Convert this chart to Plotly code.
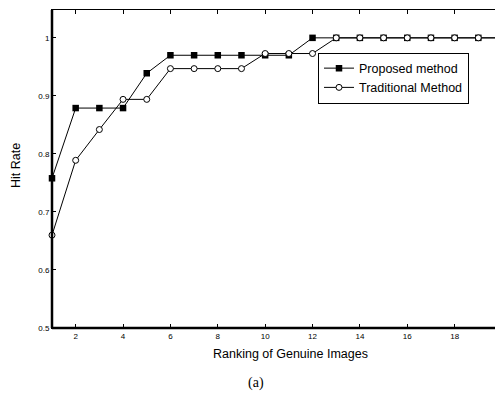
import plotly.graph_objects as go

ranks = list(range(1, 21))
proposed = [0.758, 0.879, 0.879, 0.879, 0.939, 0.970, 0.970, 0.970, 0.970, 0.970,
            0.970, 1.0, 1.0, 1.0, 1.0, 1.0, 1.0, 1.0, 1.0, 1.0]
traditional = [0.660, 0.789, 0.842, 0.894, 0.894, 0.947, 0.947, 0.947, 0.947, 0.973,
               0.973, 0.973, 1.0, 1.0, 1.0, 1.0, 1.0, 1.0, 1.0, 1.0]
x_ticks = [2, 4, 6, 8, 10, 12, 14, 16, 18, 20]
y_ticks = [0.5, 0.6, 0.7, 0.8, 0.9, 1.0]
y_tick_text = ["0.5", "0.6", "0.7", "0.8", "0.9", "1"]

# page has an 8px body margin; work in page pixel coordinates below
OFF = 8
W, H = 503 - OFF, 398 - OFF
PL, PR, PT, PB = 52, 502, 10, 328   # plot area in page pixels
L, T = PL - OFF, PT - OFF
R = W - (PR - OFF)
B = H - (PB - OFF)
PW, PH = W - L - R, H - T - B

def px_x(p):
    return (p - OFF - L) / PW

def px_y(p):
    return 1 - (p - OFF - T) / PH

fig = go.Figure()
fig.add_trace(go.Scatter(
    x=ranks, y=proposed, mode="lines+markers", name="Proposed method",
    line=dict(color="black", width=1),
    marker=dict(symbol="square", size=6.5, color="black", line=dict(color="black", width=0)),
    cliponaxis=False,
))
fig.add_trace(go.Scatter(
    x=ranks, y=traditional, mode="lines+markers", name="Traditional Method",
    line=dict(color="black", width=1),
    marker=dict(symbol="circle", size=6, color="white", line=dict(color="black", width=1)),
    cliponaxis=False,
))

font = "Liberation Sans, Arial, Helvetica, sans-serif"
fig.update_layout(
    width=W, height=H,
    margin=dict(l=L, r=R, t=T, b=B, autoexpand=False),
    paper_bgcolor="white", plot_bgcolor="white",
    showlegend=True,
    legend=dict(
        x=px_x(318), y=px_y(78), xanchor="left", yanchor="middle",
        bgcolor="white", bordercolor="black", borderwidth=1,
        font=dict(family=font, size=12.5, color="black"),
        tracegroupgap=0, itemwidth=30,
    ),
    font=dict(family=font, color="black"),
)
fig.update_xaxes(
    range=[1, 20], tickvals=x_ticks, ticktext=[str(v) for v in x_ticks],
    ticks="inside", ticklen=4, tickcolor="black", tickwidth=1,
    showline=True, linecolor="black", linewidth=1, mirror="ticks",
    showgrid=False, zeroline=False, automargin=False,
    tickfont=dict(family=font, size=8, color="black"),
)
fig.update_yaxes(
    range=[0.5, 1.048], tickvals=y_ticks, ticktext=y_tick_text,
    ticks="inside", ticklen=4, tickcolor="black", tickwidth=1,
    showline=True, linecolor="black", linewidth=1, mirror="ticks",
    showgrid=False, zeroline=False, automargin=False,
    tickfont=dict(family=font, size=8, color="black"),
)
# thicker left and bottom axis lines
fig.add_shape(type="line", xref="paper", yref="paper", x0=0, x1=0, y0=0, y1=1,
              line=dict(color="black", width=2.5))
fig.add_shape(type="line", xref="paper", yref="paper", x0=0, x1=1, y0=0, y1=0,
              line=dict(color="black", width=2.5))
# axis titles
fig.add_annotation(
    text="Ranking of Genuine Images", xref="paper", yref="paper",
    x=px_x(290), y=px_y(354), xanchor="center", yanchor="middle",
    showarrow=False, font=dict(family=font, size=12.5, color="black"),
)
fig.add_annotation(
    text="Hit Rate", xref="paper", yref="paper", textangle=-90,
    x=px_x(16), y=px_y(166), xanchor="center", yanchor="middle",
    showarrow=False, font=dict(family=font, size=12.5, color="black"),
)
fig.add_annotation(
    text="(a)", xref="paper", yref="paper", x=px_x(256), y=px_y(383),
    xanchor="center", yanchor="middle",
    showarrow=False, font=dict(family="Liberation Serif, Times New Roman, serif", size=14, color="black"),
)
fig.write_html("out.html")
